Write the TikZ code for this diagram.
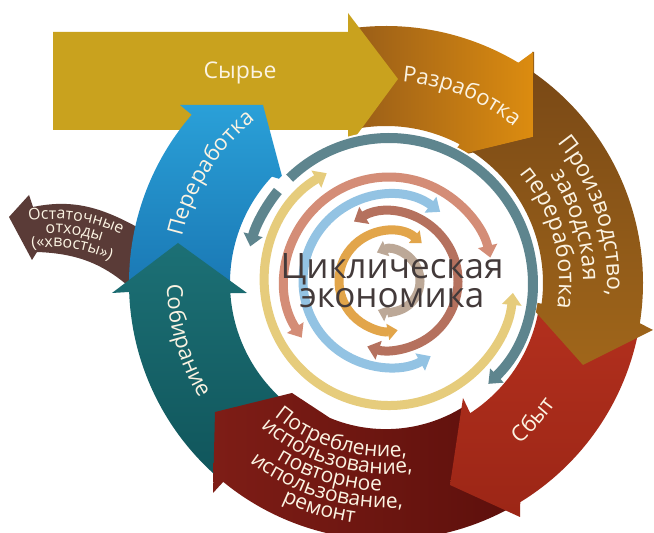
\documentclass[tikz,border=0pt]{standalone}
\usepackage{fontspec}
\setmainfont{Open Sans}
\usetikzlibrary{calc,arrows.meta,decorations.text}
\definecolor{syr}{HTML}{C9A21E}
\definecolor{razA}{HTML}{9A5E18}
\definecolor{razB}{HTML}{DC8C10}
\definecolor{proA}{HTML}{7A4916}
\definecolor{proB}{HTML}{A0661A}
\definecolor{sbyA}{HTML}{B3301E}
\definecolor{sbyB}{HTML}{9C2616}
\definecolor{potA}{HTML}{7E1D16}
\definecolor{potB}{HTML}{5E100C}
\definecolor{sobA}{HTML}{1C7075}
\definecolor{sobB}{HTML}{10555B}
\definecolor{perA}{HTML}{2AA0D8}
\definecolor{perB}{HTML}{1A78B4}
\definecolor{ost}{HTML}{5A3B37}
\definecolor{txt}{HTML}{FBF3E2}
\definecolor{ctr}{HTML}{433A3A}
\definecolor{cgray}{HTML}{5E858E}
\definecolor{cyel}{HTML}{E6CC7C}
\definecolor{csal}{HTML}{D48D77}
\definecolor{cblu}{HTML}{93C3E3}
\definecolor{cbrn}{HTML}{B5715E}
\definecolor{corg}{HTML}{E2A54A}
\definecolor{ctan}{HTML}{BCA897}
\tikzset{
  inarc/.style={line width=9pt,{Triangle[width=19pt,length=12pt]}-{Triangle[width=19pt,length=12pt]}},
  smallarc/.style={line width=9pt,{Triangle[width=16pt,length=10pt]}-{Triangle[width=16pt,length=10pt]}}
}
\begin{document}
\begin{tikzpicture}[x=1pt,y=1pt]
\useasboundingbox (0,0) rectangle (654,533);
\fill[white] (0,0) rectangle (654,533);
\coordinate (C) at (386,250);
\coordinate (C2) at (389,252);
\coordinate (O) at (53,158);

% residual waste arrow
\fill[ost] (9,316) -- (29,338) -- (33,326) to[out=12,in=150] (160,293) -- (140,236) to[out=135,in=-2] (37,281) -- (32,273) -- cycle;

% seam underlay
\draw[proA!40!proB, line width=2pt] (533,481) -- (533,396) -- (450,376);

% Razrabotka
\shade[left color=razA, right color=razB] ($(C)+(97:257)$) arc[start angle=97,end angle=59,radius=257] -- (533,481) -- (533,396) -- (450,376) -- ($(C)+(62:157)$) arc[start angle=62,end angle=100,radius=157] -- cycle;

% Syrye
\fill[syr] (53,501) -- (348,501) -- (348,520) -- (398,454) -- (348,386) -- (348,403) -- (53,403) -- cycle;

% Pererabotka
\shade[top color=perA, bottom color=perB] ($(C)+(181:257)$) arc[start angle=181,end angle=139.1,radius=257] -- (180,428) -- (263,428) -- (283,353) -- ($(C)+(137:156)$) arc[start angle=137,end angle=181,radius=156] -- cycle;

% Sobiranie
\shade[top color=sobA, bottom color=sobB] ($(C)+(230.5:257)$) arc[start angle=230.5,end angle=182,radius=257] -- (112,240) -- (178,290) -- (247,240) -- ($(C)+(183.7:156)$) arc[start angle=183.7,end angle=229,radius=156] -- cycle;

% Potreblenie
\shade[left color=potA, right color=potB] ($(C)+(-62:257)$) arc[start angle=-62,end angle=-129.3,radius=257] -- (213,40) -- (215,121) -- (292,140) -- (330,115) arc[start angle=-112.5,end angle=-57.5,radius=146] -- cycle;

% Sbyt
\shade[top color=sbyA, bottom color=sbyB] ($(C)+(-11:257)$) arc[start angle=-11,end angle=-58.5,radius=257] -- (520,16) -- (450,48) -- (463,135) -- ($(C)+(-57.1:155)$) arc[start angle=-57.1,end angle=-8,radius=155] -- cycle;

% Proizvodstvo (notched tail)
\shade[top color=proA, bottom color=proB] ($(C)+(55.1:257)$) arc[start angle=55.1,end angle=-9,radius=257] -- (653,203) -- (583,168) -- (525,233) -- ($(C)+(-7.6:157)$) arc[start angle=-7.6,end angle=56.7,radius=157] -- (533,396) -- cycle;

% inner arcs
\draw[white, line width=14pt] ($(C2)+(167:143)$) arc[start angle=167,end angle=-47,radius=143];
\draw[cgray, line width=10pt, -{Triangle[width=19pt,length=12pt]}] ($(C2)+(134:143)$) arc[start angle=134,end angle=-46,radius=143];
\draw[cgray, line width=10pt, -{Triangle[width=19pt,length=12pt]}] ($(C2)+(141:143)$) arc[start angle=141,end angle=166,radius=143];
\draw[cyel, inarc] ($(C2)+(120:124.5)$) arc[start angle=120,end angle=354.5,radius=124.5];
\draw[csal, inarc] ($(C2)+(213:104)$) arc[start angle=213,end angle=13,radius=104];
\draw[cblu, inarc] ($(C2)+(53.5:86)$) arc[start angle=53.5,end angle=299,radius=86];
\draw[cbrn, inarc] ($(C2)+(120.5:69)$) arc[start angle=120.5,end angle=-108.4,radius=69];
\draw[corg, smallarc] ($(C2)+(49:50)$) arc[start angle=49,end angle=280,radius=50];
\draw[ctan, smallarc] ($(C2)+(113:31)$) arc[start angle=113,end angle=-111,radius=31];

% texts
\node[font=\fontsize{23}{26}\selectfont, text=txt] (syrt) at (240,460) {Сырье};
\node[font=\fontsize{35}{29}\selectfont, text=ctr, align=center] (ctrt) at (392,252) {Циклическая\\экономика};

\path[decorate, decoration={text along path, text align=center, text color=txt, text={|\fontsize{22}{24}\selectfont|Разработка}}] ($(C)+(108:202)$) arc[start angle=108,end angle=28,radius=202];

\path[decorate, decoration={text along path, text align=center, text color=txt, text={|\fontsize{23}{24}\selectfont|Производство,}}] ($(C)+(60:221)$) arc[start angle=60,end angle=-24,radius=221];
\path[decorate, decoration={text along path, text align=center, text color=txt, text={|\fontsize{23}{24}\selectfont|заводская}}] ($(C)+(59:197)$) arc[start angle=59,end angle=-25,radius=197];
\path[decorate, decoration={text along path, text align=center, text color=txt, text={|\fontsize{23}{24}\selectfont|переработка}}] ($(C)+(57:173)$) arc[start angle=57,end angle=-26,radius=173];

\path[decorate, decoration={text along path, text align=center, text color=txt, text={|\fontsize{22}{24}\selectfont|Сбыт}}] ($(C)+(-83:209)$) arc[start angle=-83,end angle=-3,radius=209];

\path[decorate, decoration={text along path, text align=center, text color=txt, text={|\fontsize{21}{22}\selectfont|Потребление,}}] ($(C)+(-150:174)$) arc[start angle=-150,end angle=-63,radius=174];
\path[decorate, decoration={text along path, text align=center, text color=txt, text={|\fontsize{21}{22}\selectfont|использование,}}] ($(C)+(-150:191)$) arc[start angle=-150,end angle=-63,radius=191];
\path[decorate, decoration={text along path, text align=center, text color=txt, text={|\fontsize{21}{22}\selectfont|повторное}}] ($(C)+(-150:208)$) arc[start angle=-150,end angle=-63,radius=208];
\path[decorate, decoration={text along path, text align=center, text color=txt, text={|\fontsize{21}{22}\selectfont|использование,}}] ($(C)+(-150:225)$) arc[start angle=-150,end angle=-63,radius=225];
\path[decorate, decoration={text along path, text align=center, text color=txt, text={|\fontsize{21}{22}\selectfont|ремонт}}] ($(C)+(-150:242)$) arc[start angle=-150,end angle=-63,radius=242];

\path[decorate, decoration={text along path, text align=center, text color=txt, text={|\fontsize{22}{24}\selectfont|Собирание}}] ($(C)+(156:219)$) arc[start angle=156,end angle=236,radius=219];
\path[decorate, decoration={text along path, text align=center, text color=txt, text={|\fontsize{22}{24}\selectfont|Переработка}}] ($(C)+(190:209)$) arc[start angle=190,end angle=106,radius=209];

\path[decorate, decoration={text along path, text align=center, text color=txt, text={|\fontsize{16}{18}\selectfont|Остаточные}}] ($(O)+(131.5:156)$) arc[start angle=131.5,end angle=31.5,radius=156];
\path[decorate, decoration={text along path, text align=center, text color=txt, text={|\fontsize{16}{18}\selectfont|отходы}}] ($(O)+(131.5:142)$) arc[start angle=131.5,end angle=31.5,radius=142];
\path[decorate, decoration={text along path, text align=center, text color=txt, text={|\fontsize{16}{18}\selectfont|(«хвосты»)}}] ($(O)+(131.5:128)$) arc[start angle=131.5,end angle=31.5,radius=128];
\end{tikzpicture}
\end{document}
